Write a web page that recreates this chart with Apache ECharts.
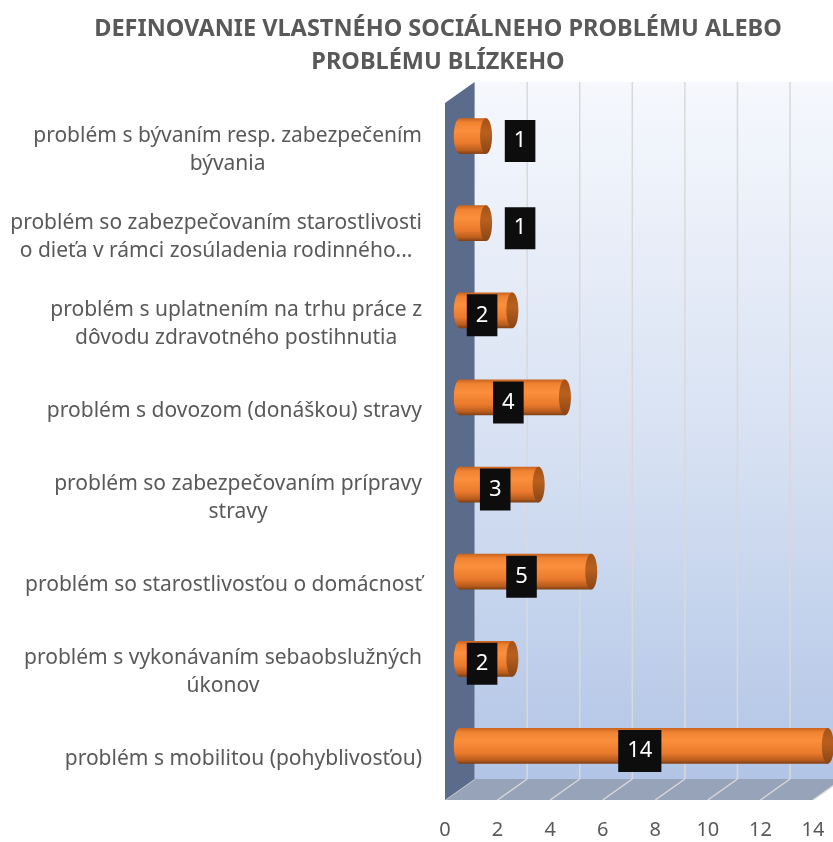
<!DOCTYPE html>
<html>
<head>
<meta charset="UTF-8">
<script src="https://cdn.jsdelivr.net/npm/echarts@6/dist/echarts.min.js"></script>
<title>Definovanie sociálneho problému</title>
<style>
body { margin: 0; background: #fff; }
#chart { width: 833px; height: 842px; }
</style>
</head>
<body>
<div id="chart"></div>
<script>
// kategórie zhora nadol
var categories = [
	'problém s bývaním resp. zabezpečením\nbývania',
	'problém so zabezpečovaním starostlivosti\no dieťa v rámci zosúladenia rodinného...',
	'problém s uplatnením na trhu práce z\ndôvodu zdravotného postihnutia',
	'problém s dovozom (donáškou) stravy',
	'problém so zabezpečovaním prípravy\nstravy',
	'problém so starostlivosťou o domácnosť',
	'problém s vykonávaním sebaobslužných\núkonov',
	'problém s mobilitou (pohyblivosťou)'
];
var values = [1, 1, 2, 4, 3, 5, 2, 14];
var xTicks = [0, 2, 4, 6, 8, 10, 12, 14];

var FONT = 'Noto Sans';
var DX = 14.8, DY = 10.5; // hĺbka 3D

var chart = echarts.init(document.getElementById('chart'));

function barData() {
	var d = [];
	for (var i = 0; i < values.length; i++) d.push([values[i], i]);
	return d;
}

function renderWalls(params, api) {
	var cs = params.coordSys;
	var x = cs.x, y = cs.y, w = cs.width, yb = cs.y + cs.height;
	var xr = x + w;
	var kids = [];
	// zadná stena
	kids.push({
		type: 'rect',
		shape: { x: x + DX, y: y - DY, width: w, height: cs.height },
		style: {
			fill: {
				type: 'linear', x: 0, y: 0, x2: 0, y2: 1,
				colorStops: [
					{ offset: 0, color: '#f6f8fd' },
					{ offset: 0.5, color: '#d8e2f3' },
					{ offset: 1, color: '#b2c5e6' }
				]
			}
		}
	});
	// podlaha
	kids.push({
		type: 'polygon',
		shape: { points: [[x + DX, yb - DY], [xr + DX, yb - DY], [xr - DX, yb + DY], [x - DX, yb + DY]] },
		style: { fill: '#97a3b9' }
	});
	for (var i = 0; i < xTicks.length; i++) {
		var px = api.coord([xTicks[i], 0])[0];
		if (i > 0) {
			kids.push({
				type: 'line',
				shape: { x1: px + DX, y1: y - DY, x2: px + DX, y2: yb - DY },
				style: { stroke: '#d9d9d9', lineWidth: 1.5 }
			});
		}
		kids.push({
			type: 'line',
			shape: { x1: px + DX, y1: yb - DY, x2: px - DX, y2: yb + DY },
			style: { stroke: '#d9d9d9', lineWidth: 1.5 }
		});
	}
	// ľavá stena
	kids.push({
		type: 'polygon',
		shape: { points: [[x - DX, y + DY], [x + DX, y - DY], [x + DX, yb - DY], [x - DX, yb + DY]] },
		style: { fill: '#5b6b8b' }
	});
	return { type: 'group', children: kids };
}

var bodyFill = {
	type: 'linear', x: 0, y: 0, x2: 0, y2: 1,
	colorStops: [
		{ offset: 0, color: '#c9631f' },
		{ offset: 0.12, color: '#ef8332' },
		{ offset: 0.35, color: '#fb8f3c' },
		{ offset: 0.7, color: '#ea7a2d' },
		{ offset: 0.9, color: '#b95c1d' },
		{ offset: 1, color: '#7e3f14' }
	]
};
var capFill = {
	type: 'linear', x: 0, y: 0, x2: 0, y2: 1,
	colorStops: [
		{ offset: 0, color: '#a45319' },
		{ offset: 0.4, color: '#b9601f' },
		{ offset: 1, color: '#8a4516' }
	]
};

function renderBar(params, api) {
	var v = api.value(0), c = api.value(1);
	var s = api.coord([0, c]), e = api.coord([v, c]);
	var cy = s[1];
	var h = api.size([0, 1])[1] * 0.41;
	var rx = 6;
	var lab = String(v);
	var boxW = lab.length * 12 + 18;
	var len = e[0] - s[0];
	var lx = len >= boxW + 10 ? (s[0] + e[0]) / 2 - 4 : e[0] + rx + 13 + boxW / 2;
	return {
		type: 'group',
		children: [
			{ type: 'ellipse', shape: { cx: s[0], cy: cy, rx: rx, ry: h / 2 }, style: { fill: bodyFill } },
			{ type: 'rect', shape: { x: s[0], y: cy - h / 2, width: len, height: h }, style: { fill: bodyFill } },
			{ type: 'ellipse', shape: { cx: e[0], cy: cy, rx: rx, ry: h / 2 }, style: { fill: capFill } },
			{
				type: 'text',
				x: lx, y: cy + 5,
				style: {
					text: lab, fill: '#ffffff', font: '22px "' + FONT + '"',
					align: 'center', verticalAlign: 'middle',
					backgroundColor: '#0d0d0d', padding: [6, 9], lineHeight: 30
				}
			}
		]
	};
}

var option = {
	animation: false,
	title: {
		text: 'DEFINOVANIE VLASTNÉHO SOCIÁLNEHO PROBLÉMU ALEBO\nPROBLÉMU BLÍZKEHO',
		left: 433, top: 8, textAlign: 'center',
		textStyle: { fontFamily: FONT, fontSize: 23.5, fontWeight: 'bold', color: '#595959', lineHeight: 33 }
	},
	grid: [
		{ left: 459.8, top: 92.5, width: 368, height: 697 },
		{ left: 445, top: 106, width: 368, height: 697 }
	],
	xAxis: [
		{ gridIndex: 0, type: 'value', min: 0, max: 14, interval: 2, show: false },
		{
			gridIndex: 1, type: 'value', min: 0, max: 14, interval: 2,
			axisLine: { show: false }, axisTick: { show: false }, splitLine: { show: false },
			axisLabel: { margin: 17, color: '#595959', fontFamily: FONT, fontSize: 20 }
		}
	],
	yAxis: [
		{ gridIndex: 0, type: 'category', inverse: true, data: categories, show: false },
		{
			gridIndex: 1, type: 'category', inverse: true, data: categories,
			axisLine: { show: false }, axisTick: { show: false },
			axisLabel: {
				margin: 23,
				formatter: function (v) {
					return v.split('\n').map(function (l) { return '{c|' + l + '}'; }).join('\n');
				},
				rich: { c: { align: 'center', fontFamily: FONT, fontSize: 21, color: '#595959', lineHeight: 28 } }
			}
		}
	],
	series: [
		{
			type: 'custom', xAxisIndex: 0, yAxisIndex: 0, z: 1, silent: true,
			data: [[0, 0]], renderItem: renderWalls
		},
		{
			type: 'custom', name: 'počet', xAxisIndex: 0, yAxisIndex: 0, z: 5,
			data: barData(), renderItem: renderBar,
			encode: { x: 0, y: 1 }
		}
	]
};
chart.setOption(option);
</script>
</body>
</html>
